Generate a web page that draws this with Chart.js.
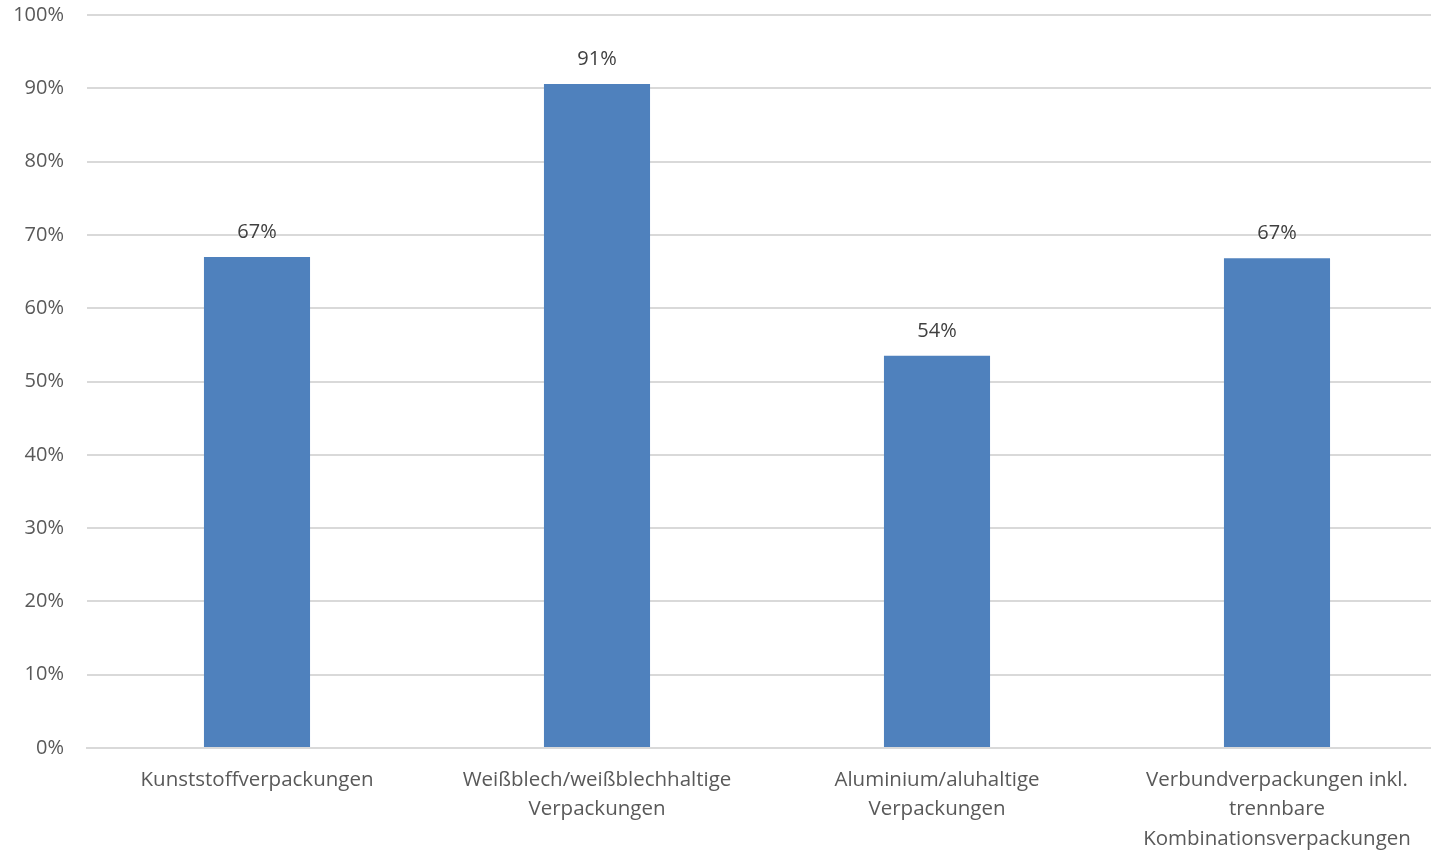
<!DOCTYPE html>
<html><head><meta charset="utf-8">
<script src="https://cdn.jsdelivr.net/npm/chart.js@4/dist/chart.umd.min.js"></script>
<style>html,body{margin:0;padding:0;background:#fff;overflow:hidden}#wrap{width:1447px;height:850px}</style>
</head><body><div id="wrap"><canvas id="c"></canvas></div>
<script>
const categories = [
  "Kunststoffverpackungen",
  ["Weißblech/weißblechhaltige", "Verpackungen"],
  ["Aluminium/aluhaltige", "Verpackungen"],
  ["Verbundverpackungen inkl.", "trennbare", "Kombinationsverpackungen"]
];
const values = [67.0, 90.6, 53.5, 66.8];
const valueLabels = ["67%", "91%", "54%", "67%"];
const yTicks = [0,10,20,30,40,50,60,70,80,90,100];

const FONT = "'Open Sans', sans-serif";
const labelPlugin = {
  id: 'vlabels',
  afterDatasetsDraw(chart) {
    const ctx = chart.ctx;
    const meta = chart.getDatasetMeta(0);
    ctx.save();
    ctx.font = "20px " + FONT;
    ctx.fillStyle = '#404040';
    ctx.textAlign = 'center';
    ctx.textBaseline = 'middle';
    meta.data.forEach((bar, i) => {
      ctx.fillText(valueLabels[i], bar.x, bar.y - 25);
    });
    ctx.restore();
  }
};

new Chart(document.getElementById('c'), {
  type: 'bar',
  data: {
    labels: categories,
    datasets: [{ data: values, backgroundColor: '#4F81BD', barPercentage: 0.624, categoryPercentage: 0.5 }]
  },
  options: {
    responsive: true, maintainAspectRatio: false, animation: false,
    layout: { padding: { top: 15, right: 0, left: 0, bottom: 0 } },
    plugins: { legend: { display: false }, tooltip: { enabled: false } },
    scales: {
      x: {
        grid: { display: false, drawTicks: false },
        border: { color: '#D9D9D9', width: 2 },
        ticks: { color: '#595959', font: { family: FONT, size: 20.5, lineHeight: 1.45 }, padding: 17, maxRotation: 0, autoSkip: false },
        afterFit(s) { s.height = 102; s.paddingLeft = 0; s.paddingRight = 0; }
      },
      y: {
        min: 0, max: 100,
        afterBuildTicks(s) { s.ticks = yTicks.map(v => ({ value: v })); },
        grid: { color: '#D9D9D9', lineWidth: 2, drawTicks: false },
        border: { display: false },
        ticks: { color: '#595959', font: { family: FONT, size: 20 }, padding: 23, callback: v => v + '%' },
        afterFit(s) { s.width = 87; s.paddingTop = 0; s.paddingBottom = 0; }
      }
    }
  },
  plugins: [labelPlugin]
});
</script></body></html>
